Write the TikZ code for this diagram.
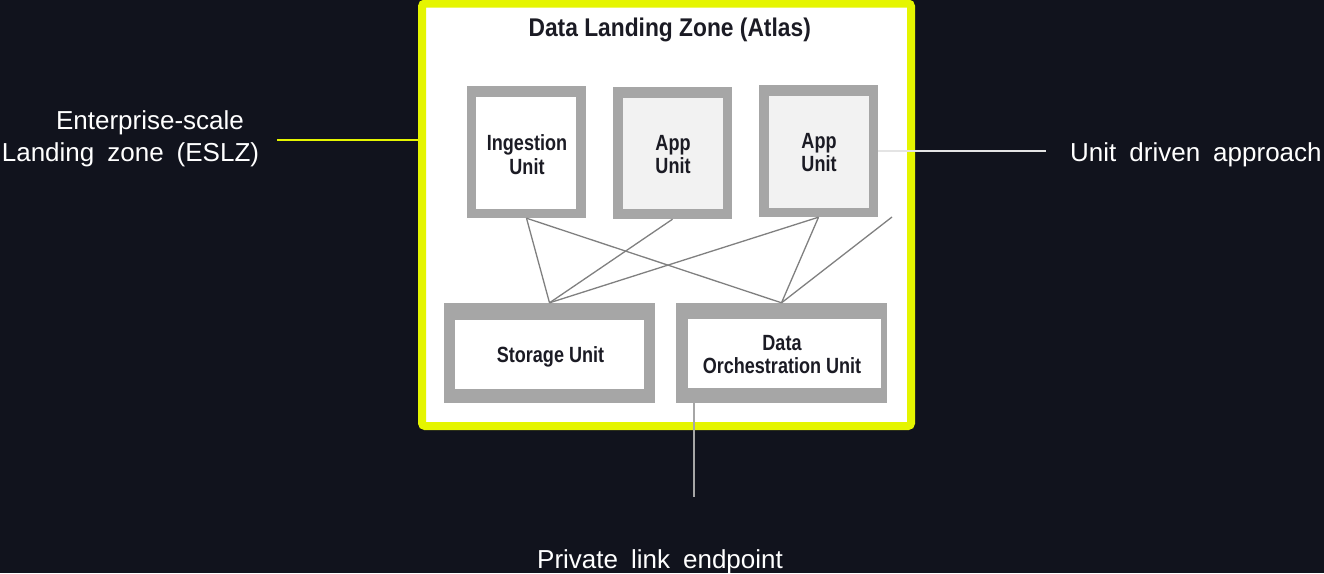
\documentclass[tikz,border=0pt]{standalone}
\usepackage{fontspec}
\setmainfont{Liberation Sans}
\newfontfamily\titlefont{Liberation Sans}[FakeStretch=0.89]
\newfontfamily\boxfont{Liberation Sans}[FakeStretch=0.82]
\newfontfamily\outfont{Liberation Sans}[WordSpace=1.8]
\definecolor{bg}{HTML}{11131D}
\definecolor{zoneyellow}{HTML}{E5F500}
\definecolor{unitgray}{HTML}{A6A6A6}
\definecolor{applight}{HTML}{F2F2F2}
\definecolor{linkgray}{HTML}{808080}
\definecolor{inktext}{HTML}{1B1B24}
\definecolor{paleline}{HTML}{E4E4E4}
\tikzset{
  zonebox/.style={draw=zoneyellow, line width=8pt, fill=white, rounded corners=3pt, inner sep=0pt},
  unitframe/.style={fill=unitgray, draw=none, inner sep=0pt},
  unitinner/.style={fill=white, draw=none, inner sep=0pt},
  appinner/.style={fill=applight, draw=none, inner sep=0pt},
  unitlabel/.style={text=inktext, font=\boxfont\bfseries\fontsize{22}{23.7}\selectfont, align=center, inner sep=0pt},
  titlelabel/.style={text=inktext, font=\titlefont\bfseries\fontsize{25.6}{30}\selectfont, inner sep=0pt},
  outlabel/.style={text=white, font=\outfont\fontsize{26}{32}\selectfont, inner sep=0pt},
  link/.style={draw=linkgray, line width=1.3pt},
  yline/.style={draw=zoneyellow, line width=1.6pt},
  rline/.style={draw=paleline, line width=1.5pt},
  bline/.style={draw=unitgray, line width=2pt}
}
\begin{document}
\begin{tikzpicture}[x=1pt,y=-1pt]
\fill[bg] (0,0) rectangle (1324,573);
\useasboundingbox (0,0) rectangle (1324,573);

% zone container
\node[zonebox, minimum width=489pt, minimum height=422.5pt] (zone) at (666.5,214.75) {};
\node[titlelabel, anchor=base] (title) at (669.7,36.5) {Data Landing Zone (Atlas)};

% units
\node[unitframe, minimum width=119pt, minimum height=132pt] (ing) at (526.5,152) {};
\node[unitinner, minimum width=100pt, minimum height=112pt] (ingin) at (526,153) {};
\node[unitlabel] (ingt) at (527,154.3) {Ingestion\\Unit};

\node[unitframe, minimum width=119pt, minimum height=132pt] (app1) at (672.5,153) {};
\node[appinner, minimum width=100pt, minimum height=111pt] (app1in) at (673,153.5) {};
\node[unitlabel] (app1t) at (673,154.5) {App\\Unit};

\node[unitframe, minimum width=119pt, minimum height=132pt] (app2) at (818.5,151) {};
\node[appinner, minimum width=100pt, minimum height=112pt] (app2in) at (819,152) {};
\node[unitlabel] (app2t) at (819,152.5) {App\\Unit};

\node[unitframe, minimum width=211pt, minimum height=100pt] (stor) at (549.5,353) {};
\node[unitinner, minimum width=189pt, minimum height=69pt] (storin) at (549.5,354.5) {};
\node[unitlabel, anchor=base] (stort) at (550.5,362.7) {Storage Unit};

\node[unitframe, minimum width=211pt, minimum height=100pt] (orch) at (781.5,353) {};
\node[unitinner, minimum width=193pt, minimum height=69pt] (orchin) at (784.5,353.5) {};
\node[unitlabel] (orcht) at (782,354.5) {Data\\Orchestration Unit};

% links between units
\coordinate (spare) at (892,217);
\draw[link] (ing.south) -- (stor.north);
\draw[link] (ing.south) -- (orch.north);
\draw[link] (app1.south) -- (stor.north);
\draw[link] (app2.south) -- (stor.north);
\draw[link] (app2.south) -- (orch.north);
\draw[link] (spare) -- (orch.north);

% callouts
\coordinate (eslzend) at (277,140);
\draw[yline] (eslzend) -- (eslzend -| zone.west);
\coordinate (udaend) at (1046,151);
\draw[rline] (app2.east) -- (udaend);
\coordinate (pleend) at (694,497);
\draw[bline] (pleend |- orch.south) -- (pleend);

\node[outlabel, anchor=base] (eslz1) at (150,129) {Enterprise-scale};
\node[outlabel, anchor=base] (eslz2) at (130.5,161) {Landing zone (ESLZ)};
\node[outlabel, anchor=base west] (uda) at (1070,161.5) {Unit driven approach};
\node[outlabel, anchor=base west] (ple) at (537,568) {Private link endpoint};
\end{tikzpicture}
\end{document}
